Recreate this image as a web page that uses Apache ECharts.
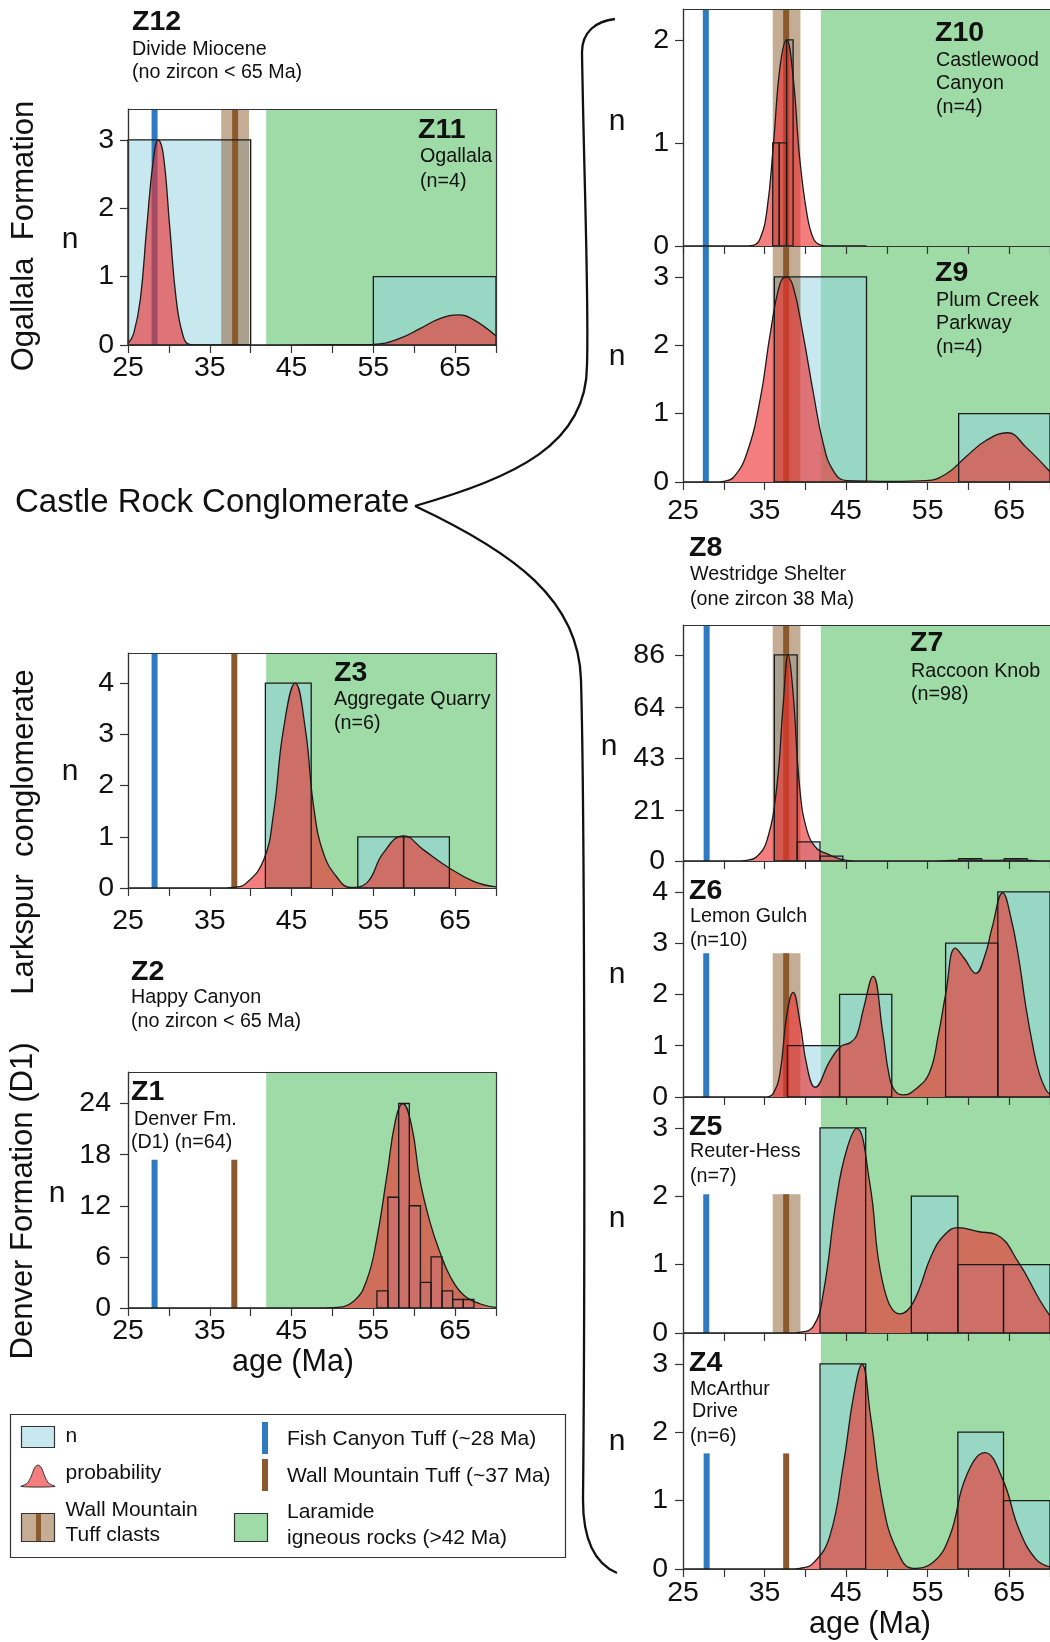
<!DOCTYPE html>
<html><head><meta charset="utf-8">
<script src="https://cdn.jsdelivr.net/npm/echarts@6/dist/echarts.min.js"></script>
<style>html,body{margin:0;padding:0;background:#fff}#c{width:1050px;height:1642px}</style>
</head><body><div id="c"></div><script>
// ================= DATA =================
const ageTicks  = [25,30,35,40,45,50,55,60,65,70];
const ageLabels = [25,35,45,55,65];
const laramide  = [[41.9,70]];            // Laramide igneous rocks (>42 Ma)

const yTicks2 = [0,1,2];
const yTicks3 = [0,1,2,3];
const yTicks4 = [0,1,2,3,4];
const yTicksZ7 = [0,21,43,64,86];
const yTicksZ1 = [0,6,12,18,24];

// histogram bins [from Ma, to Ma, n]; probability curves [Ma, value]
// tuff markers [Ma, height]; clast bands [from Ma, to Ma, height]
const z11Bins = [[25,40,3],[55,70,1]];
const z11Prob = [[25,0.02],[25.7,0.17],[26.5,0.66],[27.3,1.73],[28.1,2.71],[28.7,3.0],[29.3,2.8],[30.1,1.73],[30.9,0.66],[31.7,0.15],[32.5,0.01],[33.7,0],[55,0.01],[58.3,0.1],[60.7,0.24],[63.2,0.39],[65.4,0.44],[67.25,0.37],[70,0.13]];
const z11Fish = [[28.25,3.45]];
const z11Wall = [[38.1,3.45]];
const z11Band = [[36.4,39.8,3.45]];

const z10Bins = [[36.0,36.8,1],[36.8,37.7,1],[37.7,38.5,2]];
const z10Prob = [[25,0],[33,0],[33.6,0.005],[34.45,0.07],[35.3,0.35],[36.1,1.0],[36.9,1.74],[37.7,2.0],[38.5,1.64],[39.3,0.86],[40.2,0.31],[41.0,0.07],[41.8,0.01],[42.6,0],[47.5,0]];
const z10Fish = [[27.8,2.3]];
const z10Wall = [[37.65,2.3]];
const z10Band = [[36.0,39.4,2.3]];

const z9Bins = [[36.2,47.5,3],[58.8,70,1]];
const z9Prob = [[25,0],[29,0],[30.0,0.01],[31.2,0.07],[32.8,0.41],[34.45,1.2],[35.7,2.17],[36.9,2.9],[37.7,3.0],[38.5,2.86],[39.7,2.17],[41.0,1.29],[42.2,0.56],[43.4,0.17],[45.0,0.02],[50.7,0.01],[54.8,0.02],[57.3,0.12],[59.7,0.37],[62.2,0.61],[64.8,0.72],[67.05,0.51],[70,0.15]];
const z9Fish = [[27.8,3.45]];
const z9Wall = [[37.65,3.45]];
const z9Band = [[36.0,39.4,3.45]];

const z7Bins = [[36.2,39.0,86],[39.0,41.8,8],[41.8,44.6,2],[58.8,61.6,1],[64.4,67.2,1]];
const z7Prob = [[25,0],[31.5,0],[32.8,0.3],[34.0,1.7],[35.3,8.6],[36.5,31],[37.3,66],[37.9,86],[38.5,70],[39.3,31],[40.2,12.8],[41.4,5.2],[42.6,3.1],[43.8,1.4],[45.0,0.3],[47,0],[55,0],[58,0.2],[60.2,0.5],[62.8,0.3],[65.8,0.5],[68,0.15],[70,0]];
const z7Fish = [[27.9,98.5]];
const z7Wall = [[37.65,98.5]];
const z7Band = [[36.0,39.4,98.5]];

const z6Bins = [[37.8,44.2,1],[44.2,50.6,2],[57.2,63.6,3],[63.6,70,4]];
const z6Prob = [[25,0],[35.3,0],[36.1,0.08],[36.9,0.47],[37.7,1.57],[38.5,2.04],[39.3,1.5],[40.2,0.6],[41.2,0.19],[43.0,0.7],[44.3,0.98],[45.5,1.06],[46.3,1.2],[47.1,1.7],[48.3,2.35],[49.5,1.25],[50.3,0.4],[51.0,0.12],[52.0,0.04],[53.5,0.15],[55.2,0.47],[56.3,1.2],[57.2,2.0],[58.4,2.9],[59.5,2.7],[60.9,2.41],[62.0,2.75],[62.9,3.3],[64.2,3.98],[65.2,3.5],[66.2,2.67],[67.0,1.8],[67.9,0.99],[68.7,0.45],[69.5,0.14],[70,0.05]];
const z6Fish = [[27.85,2.8]];
const z6Wall = [[37.65,2.8]];
const z6Band = [[36.0,39.4,2.8]];

const z5Bins = [[41.8,47.4,3],[53.0,58.7,2],[58.7,64.3,1],[64.3,70,1]];
const z5Prob = [[25,0],[38,0],[39.3,0.01],[41.0,0.1],[42.2,0.58],[43.8,1.95],[45.0,2.65],[46.3,2.99],[47.9,2.19],[49.5,0.73],[51.6,0.28],[53.2,0.44],[55.6,1.17],[57.2,1.45],[58.7,1.54],[61.3,1.48],[63.4,1.44],[66.2,1.02],[68.7,0.49],[70,0.25]];
const z5Fish = [[27.85,2.03]];
const z5Wall = [[37.65,2.03]];
const z5Band = [[36.0,39.4,2.03]];

const z4Bins = [[41.8,47.4,3],[58.7,64.3,2],[64.3,70,1]];
const z4Prob = [[25,0],[38,0],[39.3,0.01],[41.0,0.09],[43.0,0.48],[44.7,1.55],[45.9,2.52],[46.95,2.99],[48.0,2.23],[49.5,0.96],[51.2,0.28],[53.2,0.01],[55.6,0.09],[57.7,0.48],[59.7,1.35],[62.0,1.70],[64.2,1.31],[66.2,0.58],[68.3,0.14],[70,0.03]];
const z4Fish = [[27.9,1.69]];
const z4Wall = [[37.65,1.69]];
const z4Band = [];

const z3Bins = [[41.8,47.4,4],[53.1,58.7,1],[58.7,64.3,1]];
const z3Prob = [[25,0],[36,0],[37.9,0.01],[39.5,0.1],[41.6,0.55],[42.8,1.46],[44.0,3.09],[45.45,4.0],[46.7,3.09],[47.7,1.59],[48.9,0.68],[50.6,0.2],[52.2,0.01],[54.2,0.1],[56.2,0.68],[58.7,1.02],[61.1,0.75],[64.0,0.42],[67.25,0.13],[70,0.02]];
const z3Fish = [[28.25,4.59]];
const z3Wall = [[38.0,4.59]];
const z3Band = [];

const z1Bins = [[55.44,56.78,2],[56.78,58.1,13],[58.1,59.4,24],[59.4,60.76,12],[60.76,62.06,3],[62.06,63.4,6],[63.4,64.7,2],[64.7,66.0,1],[66.0,67.3,1]];
const z1Prob = [[25,0],[48,0],[50.1,0.05],[52.6,0.8],[54.2,3.3],[55.4,8.0],[56.7,15.8],[57.7,22],[58.6,24],[59.7,21.3],[60.7,15.0],[61.95,10],[63.2,6.4],[64.4,3.7],[66.0,1.56],[68.1,0.47],[70,0.08]];
const z1Fish = [[28.25,17.4]];
const z1Wall = [[38.0,17.4]];
const z1Band = [];

// ================= STYLE / LAYOUT =================
const FONT = '"Liberation Sans", Arial, Helvetica, sans-serif';
const GREEN = '#9edba6';
const NFILL = 'rgba(147,211,223,0.53)';
const PFILL = 'rgba(238,45,45,0.62)';
const BAND = 'rgba(139,90,43,0.5)';
const BROWN = '#8a5a2e';
const BLUE = '#2f7bc2';
const INK = '#1a1a1a';
const TICKF = 28.5;
const NOTEF = 19.7;
const ZF = 28.5;

const panels = [
  {g:[128,109,368,236], ymax:3.45, yt:yTicks3, bins:z11Bins, prob:z11Prob, fish:z11Fish, wall:z11Wall, band:z11Band, xl:true, xm:9, ym:14},
  {g:[128,653,368,235], ymax:4.59, yt:yTicks4, bins:z3Bins, prob:z3Prob, fish:z3Fish, wall:z3Wall, band:z3Band, xl:true, xm:19, ym:14},
  {g:[128,1072,368,236], ymax:27.7, yt:yTicksZ1, bins:z1Bins, prob:z1Prob, fish:z1Fish, wall:z1Wall, band:z1Band, xl:true, xm:9, ym:17},
  {g:[683,9,368,237], ymax:2.3, yt:yTicks2, bins:z10Bins, prob:z10Prob, fish:z10Fish, wall:z10Wall, band:z10Band, xl:false, xm:10, ym:14},
  {g:[683,246,368,236], ymax:3.45, yt:yTicks3, bins:z9Bins, prob:z9Prob, fish:z9Fish, wall:z9Wall, band:z9Band, xl:true, xm:15, ym:14},
  {g:[683,625,368,236], ymax:98.5, yt:yTicksZ7, bins:z7Bins, prob:z7Prob, fish:z7Fish, wall:z7Wall, band:z7Band, xl:false, xm:10, ym:18},
  {g:[683,861,368,236], ymax:4.6, yt:yTicks4, bins:z6Bins, prob:z6Prob, fish:z6Fish, wall:z6Wall, band:z6Band, xl:false, xm:10, ym:15},
  {g:[683,1097,368,236], ymax:3.45, yt:yTicks3, bins:z5Bins, prob:z5Prob, fish:z5Fish, wall:z5Wall, band:z5Band, xl:false, xm:10, ym:15},
  {g:[683,1333,368,236], ymax:3.45, yt:yTicks3, bins:z4Bins, prob:z4Prob, fish:z4Fish, wall:z4Wall, band:z4Band, xl:true, xm:10, ym:15}
];

function regionRenderer(params, api){
  const cs = params.coordSys;
  const a = api.coord([api.value(0),0]), b = api.coord([api.value(1),0]);
  return {type:'rect', shape:{x:a[0], y:cs.y+1, width:b[0]-a[0], height:cs.height-1}, style:{fill:GREEN}};
}
function rectRenderer(fill, stroke, lw){
  return function(params, api){
    const cs = params.coordSys;
    const a = api.coord([api.value(0), api.value(2)]), b = api.coord([api.value(1), 0]);
    const top = Math.max(a[1], cs.y+1);
    return {type:'rect', shape:{x:a[0], y:top, width:b[0]-a[0], height:b[1]-top},
            style:{fill:fill, stroke:stroke, lineWidth:lw}};
  };
}
function lineRenderer(color){
  return function(params, api){
    const cs = params.coordSys;
    const a = api.coord([api.value(0), api.value(1)]), b = api.coord([api.value(0), 0]);
    const top = Math.max(a[1], cs.y+1);
    return {type:'rect', shape:{x:a[0]-3, y:top, width:6, height:b[1]-top}, style:{fill:color}};
  };
}

const grid=[], xAxis=[], yAxis=[], series=[], graphic=[];
panels.forEach((p,i)=>{
  grid.push({left:p.g[0], top:p.g[1], width:p.g[2], height:p.g[3], containLabel:false});
  xAxis.push({gridIndex:i, type:'value', min:25, max:70, z:10,
    axisLine:{show:true, onZero:false, lineStyle:{color:'#333', width:1.2}},
    axisTick:{show:true, customValues:ageTicks, length:8, lineStyle:{color:'#333', width:1.2}},
    axisLabel:{show:p.xl, customValues:ageLabels, margin:p.xm, fontSize:TICKF, color:'#111', fontFamily:FONT},
    splitLine:{show:false}});
  yAxis.push({gridIndex:i, type:'value', min:0, max:p.ymax, z:10,
    axisLine:{show:true, onZero:false, lineStyle:{color:'#333', width:1.2}},
    axisTick:{show:true, customValues:p.yt, length:8, lineStyle:{color:'#333', width:1.2}},
    axisLabel:{show:true, customValues:p.yt, margin:p.ym, fontSize:TICKF, color:'#111', fontFamily:FONT},
    splitLine:{show:false}});
  const base = {xAxisIndex:i, yAxisIndex:i, silent:true, animation:false};
  series.push(Object.assign({type:'custom', z:1, renderItem:regionRenderer, data:laramide}, base));
  series.push(Object.assign({type:'custom', z:2, renderItem:rectRenderer(NFILL,null,0), data:p.bins}, base));
  if (p.band.length) series.push(Object.assign({type:'custom', z:3, renderItem:rectRenderer(BAND,null,0), data:p.band}, base));
  series.push(Object.assign({type:'custom', z:4, renderItem:lineRenderer(BLUE), data:p.fish}, base));
  series.push(Object.assign({type:'custom', z:4, renderItem:lineRenderer(BROWN), data:p.wall}, base));
  series.push(Object.assign({type:'line', z:5, data:p.prob, smooth:0.45, symbol:'none', clip:true,
    lineStyle:{color:INK, width:1.3}, areaStyle:{color:PFILL, opacity:1, origin:'start'}}, base));
  series.push(Object.assign({type:'custom', z:6, renderItem:rectRenderer(null,INK,1.3), data:p.bins}, base));
  graphic.push({type:'rect', z:60, silent:true, shape:{x:p.g[0]+0.5, y:p.g[1]+0.5, width:p.g[2], height:p.g[3]}, style:{fill:null, stroke:'#333', lineWidth:1.2}});
});

function txt(t, x, y, size, opt){
  opt = opt || {};
  return {type:'text', x:x, y:y, z:70, silent:true, rotation:opt.rot||0,
    style:{text:t, font:(opt.bold?'bold ':'')+size+'px '+FONT, fill:'#111',
      align:opt.align||'left', verticalAlign:'middle'}};
}
// panel annotations
[
  ['Z12',132,22,ZF,true],['Divide Miocene',132,50,NOTEF],['(no zircon < 65 Ma)',132,73,NOTEF],
  ['Z11',418,130,ZF,true],['Ogallala',420,157,NOTEF],['(n=4)',420,182,NOTEF],
  ['Z3',334,673,ZF,true],['Aggregate Quarry',334,700,NOTEF],['(n=6)',334,724,NOTEF],
  ['Z2',131,972,ZF,true],['Happy Canyon',131,998,NOTEF],['(no zircon < 65 Ma)',131,1022,NOTEF],
  ['Z1',131,1092,ZF,true],['Denver Fm.',134,1120,NOTEF],['(D1) (n=64)',131,1143,NOTEF],
  ['Z10',935,33,ZF,true],['Castlewood',936,61,NOTEF],['Canyon',936,84,NOTEF],['(n=4)',936,108,NOTEF],
  ['Z9',935,273,ZF,true],['Plum Creek',936,301,NOTEF],['Parkway',936,324,NOTEF],['(n=4)',936,348,NOTEF],
  ['Z8',689,548,ZF,true],['Westridge Shelter',690,575,NOTEF],['(one zircon 38 Ma)',690,600,NOTEF],
  ['Z7',910,643,ZF,true],['Raccoon Knob',911,672,NOTEF],['(n=98)',911,695,NOTEF],
  ['Z6',689,891,ZF,true],['Lemon Gulch',690,917,NOTEF],['(n=10)',690,941,NOTEF],
  ['Z5',689,1127,ZF,true],['Reuter-Hess',690,1152,NOTEF],['(n=7)',690,1177,NOTEF],
  ['Z4',689,1363,ZF,true],['McArthur',690,1390,NOTEF],['Drive',692,1412,NOTEF],['(n=6)',690,1437,NOTEF]
].forEach(a=>graphic.push(txt(a[0],a[1],a[2],a[3],{bold:a[4]})));
// axis names "n"
[[70,240],[70,772],[57,1194],[617,122],[617,357],[609,747],[617,975],[617,1219],[617,1442]]
  .forEach(a=>graphic.push(txt('n',a[0],a[1],30,{align:'center'})));
graphic.push(txt('age (Ma)',293,1363,30.5,{align:'center'}));
graphic.push(txt('age (Ma)',870,1625,30.5,{align:'center'}));
// side labels
graphic.push(txt('Ogallala  Formation',24,236,31,{align:'center',rot:Math.PI/2}));
graphic.push(txt('Larkspur  conglomerate',24,832,31,{align:'center',rot:Math.PI/2}));
graphic.push(txt('Denver Formation (D1)',23,1201,31,{align:'center',rot:Math.PI/2}));
graphic.push(txt('Castle Rock Conglomerate',15,503,33));
// brace
const brace = [
  [615,19, 582,52, 596,21, 582,32],
  [582,52, 587,365, 584,180, 589,300],
  [587,365, 415,506, 587,445, 515,477],
  [415,506, 581,680, 515,553, 579,600],
  [581,680, 583,1500, 585,820, 585,1300],
  [583,1500, 617,1573, 583,1545, 598,1565]
];
brace.forEach(b=>graphic.push({type:'bezierCurve', z:70, silent:true,
  shape:{x1:b[0],y1:b[1],x2:b[2],y2:b[3],cpx1:b[4],cpy1:b[5],cpx2:b[6],cpy2:b[7]},
  style:{stroke:'#111', lineWidth:2.3, fill:null}}));
// legend
graphic.push({type:'rect', z:70, silent:true, shape:{x:10.5,y:1414.5,width:555,height:143}, style:{fill:'#fff', stroke:'#333', lineWidth:1.2}});
graphic.push({type:'rect', z:71, silent:true, shape:{x:21.5,y:1426.5,width:33,height:21}, style:{fill:NFILL, stroke:'#333', lineWidth:1.2}});
graphic.push({type:'polygon', z:71, silent:true, shape:{points:[[21,1486.5],[27,1483.5],[31,1477],[34.5,1468],[38,1465],[41.5,1468],[45,1477],[49,1483.5],[55,1486.5]], smooth:0.3}, style:{fill:PFILL, stroke:'#333', lineWidth:1}});
graphic.push({type:'rect', z:71, silent:true, shape:{x:21.5,y:1513.5,width:33,height:28}, style:{fill:BAND, stroke:'#333', lineWidth:1.2}});
graphic.push({type:'rect', z:72, silent:true, shape:{x:36,y:1514,width:5,height:27}, style:{fill:BROWN}});
graphic.push({type:'rect', z:71, silent:true, shape:{x:262,y:1422,width:6,height:32}, style:{fill:BLUE}});
graphic.push({type:'rect', z:71, silent:true, shape:{x:262,y:1459,width:6,height:32}, style:{fill:BROWN}});
graphic.push({type:'rect', z:71, silent:true, shape:{x:234.5,y:1513.5,width:33,height:28}, style:{fill:GREEN, stroke:'#333', lineWidth:1.2}});
[['n',65.5,1436],['probability',65.5,1473],['Wall Mountain',65.5,1510],['Tuff clasts',65.5,1535],
 ['Fish Canyon Tuff (~28 Ma)',287,1439],['Wall Mountain Tuff (~37 Ma)',287,1476],
 ['Laramide',287,1512],['igneous rocks (>42 Ma)',287,1538]]
 .forEach(a=>{const t=txt(a[0],a[1],a[2],21); t.z=72; graphic.push(t);});

const chart = echarts.init(document.getElementById('c'), null, {renderer:'canvas'});
chart.setOption({animation:false, backgroundColor:'#fff', grid, xAxis, yAxis, series, graphic});
</script></body></html>
